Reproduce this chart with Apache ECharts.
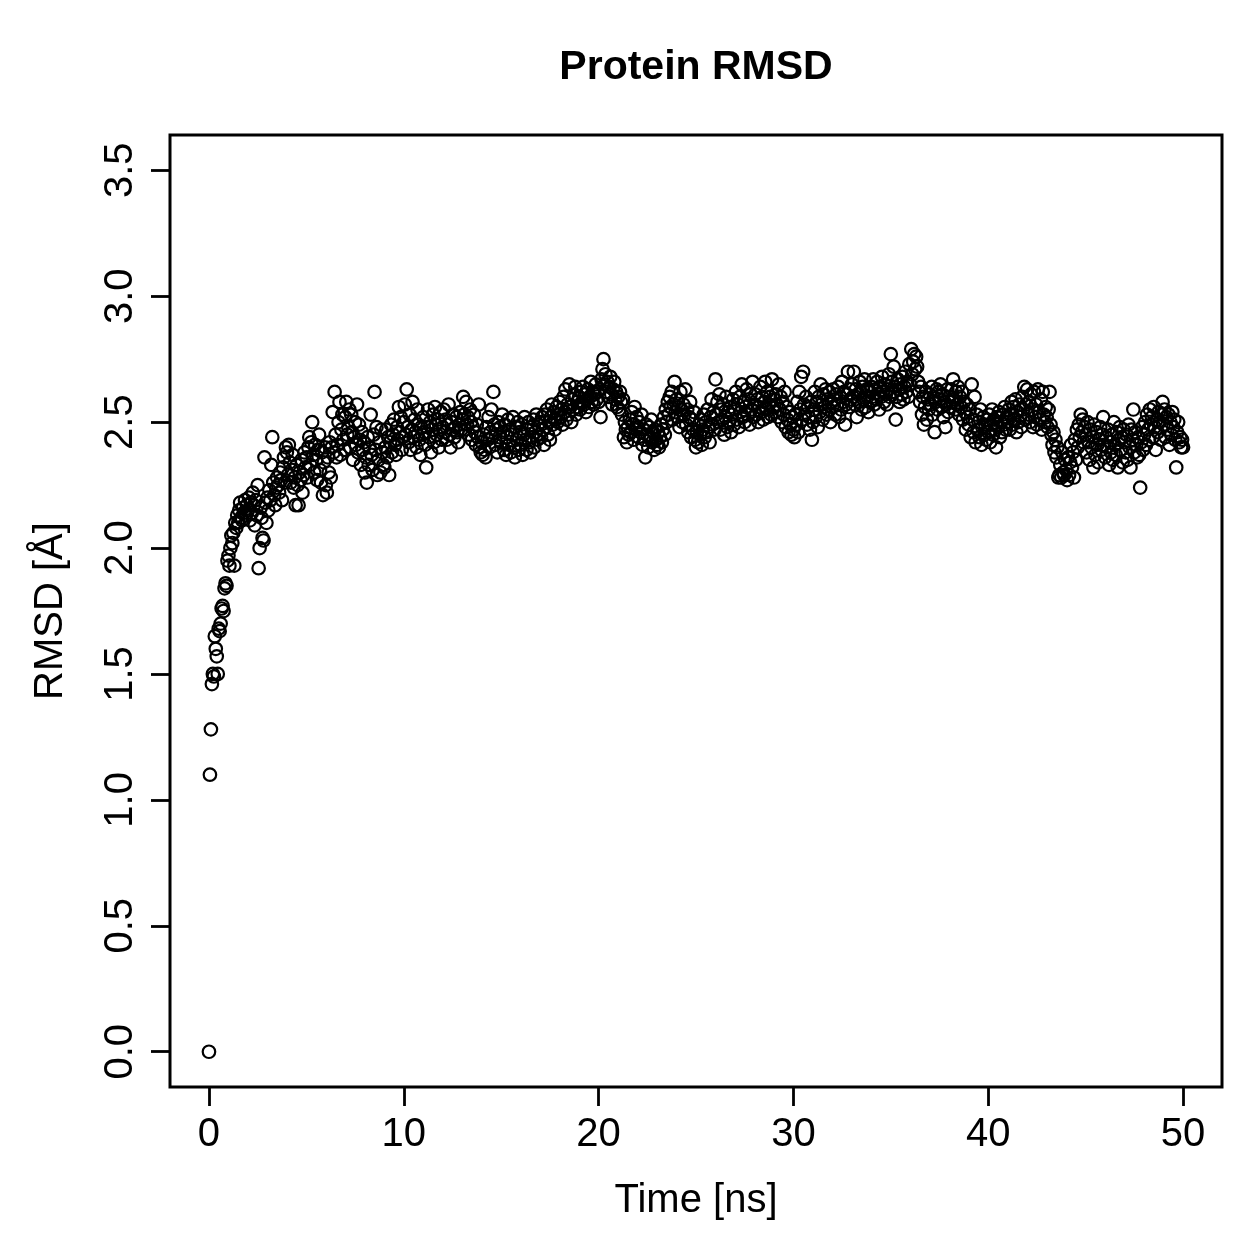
<!DOCTYPE html>
<html>
<head>
<meta charset="utf-8">
<script src="https://cdn.jsdelivr.net/npm/echarts@6/dist/echarts.min.js"></script>
<style>html,body{margin:0;padding:0;background:#fff;}#chart{width:1259px;height:1259px;}</style>
</head>
<body>
<div id="chart"></div>
<script>
// ---- data ----
const chartTitle = 'Protein RMSD';
const xAxisTitle = 'Time [ns]';
const yAxisTitle = 'RMSD [Å]';
const timeStepNs = 0.05;
const xTickValues = [0, 10, 20, 30, 40, 50];
const yTickValues = [0.0, 0.5, 1.0, 1.5, 2.0, 2.5, 3.0, 3.5];

const rmsd0to10 = [
0.00,1.10,1.28,1.46,1.50,1.49,1.65,1.60,1.57,1.50,1.68,1.67,1.70,1.76,1.77,1.75,1.84,1.86,1.85,1.95,
1.97,1.93,2.00,2.05,2.02,2.06,1.93,2.10,2.08,2.13,2.10,2.15,2.18,2.12,2.11,2.16,2.14,2.19,2.13,2.17,
2.15,2.20,2.11,2.18,2.14,2.22,2.17,2.09,2.19,2.13,2.25,1.92,2.00,2.16,2.12,2.04,2.03,2.36,2.18,2.10,
2.20,2.15,2.23,2.19,2.33,2.44,2.26,2.21,2.17,2.24,2.28,2.25,2.22,2.30,2.27,2.19,2.32,2.36,2.26,2.40,
2.38,2.29,2.41,2.34,2.26,2.31,2.37,2.24,2.28,2.17,2.33,2.25,2.17,2.30,2.27,2.35,2.22,2.29,2.38,2.32,
2.36,2.28,2.40,2.44,2.33,2.42,2.50,2.37,2.30,2.41,2.35,2.27,2.39,2.45,2.31,2.26,2.38,2.21,2.34,2.40,
2.25,2.22,2.36,2.30,2.42,2.28,2.40,2.54,2.38,2.62,2.45,2.36,2.41,2.50,2.58,2.37,2.47,2.53,2.43,2.39,
2.52,2.58,2.45,2.48,2.55,2.40,2.53,2.46,2.35,2.44,2.50,2.41,2.57,2.38,2.49,2.43,2.33,2.46,2.39,2.42,
2.30,2.36,2.26,2.44,2.33,2.40,2.53,2.37,2.31,2.45,2.62,2.39,2.48,2.29,2.35,2.42,2.30,2.47,2.38,2.33,
2.32,2.40,2.47,2.36,2.44,2.29,2.42,2.49,2.38,2.45,2.51,2.41,2.37,2.48,2.43,2.56,2.46,2.52,2.39,2.44
];
const rmsd10to20 = [
2.50,2.57,2.45,2.63,2.48,2.42,2.53,2.39,2.47,2.58,2.44,2.51,2.46,2.40,2.55,2.49,2.43,2.37,2.48,2.45,
2.52,2.46,2.41,2.32,2.48,2.55,2.44,2.50,2.38,2.47,2.53,2.42,2.56,2.49,2.45,2.51,2.40,2.47,2.54,2.43,
2.48,2.55,2.46,2.51,2.43,2.49,2.57,2.45,2.40,2.50,2.47,2.53,2.44,2.48,2.52,2.46,2.42,2.49,2.54,2.47,
2.51,2.60,2.53,2.47,2.58,2.49,2.52,2.45,2.55,2.50,2.43,2.48,2.53,2.46,2.41,2.49,2.44,2.57,2.40,2.38,
2.42,2.37,2.45,2.39,2.36,2.48,2.43,2.52,2.40,2.46,2.55,2.44,2.62,2.49,2.41,2.47,2.38,2.50,2.44,2.48,
2.42,2.53,2.46,2.39,2.49,2.37,2.44,2.51,2.41,2.47,2.38,2.45,2.52,2.40,2.36,2.48,2.43,2.50,2.39,2.46,
2.41,2.49,2.37,2.45,2.52,2.43,2.39,2.47,2.50,2.42,2.38,2.48,2.44,2.51,2.40,2.46,2.53,2.43,2.49,2.45,
2.50,2.44,2.52,2.47,2.41,2.53,2.48,2.55,2.45,2.50,2.43,2.52,2.57,2.49,2.54,2.47,2.51,2.56,2.50,2.53,
2.58,2.52,2.55,2.49,2.60,2.54,2.63,2.51,2.57,2.53,2.65,2.56,2.50,2.59,2.55,2.61,2.64,2.53,2.58,2.56,
2.60,2.55,2.62,2.58,2.64,2.57,2.61,2.54,2.59,2.63,2.56,2.60,2.66,2.58,2.62,2.57,2.61,2.65,2.59,2.62
];
const rmsd20to30 = [
2.58,2.63,2.52,2.67,2.71,2.75,2.65,2.69,2.62,2.66,2.60,2.64,2.68,2.61,2.57,2.63,2.66,2.59,2.62,2.56,
2.60,2.55,2.62,2.58,2.53,2.59,2.44,2.50,2.47,2.42,2.48,2.45,2.51,2.46,2.54,2.49,2.43,2.56,2.47,2.52,
2.48,2.44,2.50,2.46,2.53,2.41,2.47,2.43,2.36,2.49,2.45,2.40,2.48,2.44,2.51,2.42,2.46,2.39,2.47,2.43,
2.41,2.46,2.40,2.44,2.49,2.42,2.47,2.52,2.45,2.55,2.50,2.58,2.53,2.60,2.56,2.62,2.51,2.57,2.66,2.54,
2.59,2.52,2.56,2.48,2.62,2.55,2.50,2.57,2.53,2.63,2.49,2.55,2.46,2.52,2.58,2.44,2.51,2.47,2.54,2.43,
2.40,2.46,2.42,2.49,2.45,2.51,2.41,2.47,2.53,2.44,2.50,2.46,2.55,2.48,2.42,2.52,2.59,2.49,2.54,2.47,
2.67,2.53,2.58,2.50,2.61,2.47,2.55,2.51,2.57,2.45,2.52,2.60,2.48,2.54,2.50,2.56,2.46,2.53,2.59,2.49,
2.55,2.62,2.51,2.57,2.48,2.60,2.54,2.65,2.52,2.58,2.50,2.56,2.63,2.53,2.59,2.49,2.61,2.55,2.66,2.52,
2.57,2.61,2.53,2.59,2.50,2.56,2.64,2.54,2.60,2.51,2.58,2.66,2.55,2.62,2.52,2.57,2.60,2.53,2.67,2.56,
2.59,2.54,2.61,2.57,2.52,2.65,2.55,2.60,2.50,2.58,2.53,2.62,2.48,2.56,2.51,2.46,2.54,2.49,2.45,2.52
];
const rmsd30to40 = [
2.47,2.44,2.53,2.49,2.58,2.46,2.62,2.55,2.68,2.51,2.70,2.57,2.53,2.60,2.49,2.56,2.52,2.47,2.58,2.43,
2.50,2.55,2.62,2.52,2.58,2.48,2.60,2.54,2.65,2.57,2.51,2.61,2.56,2.63,2.53,2.59,2.55,2.62,2.50,2.58,
2.56,2.63,2.59,2.53,2.61,2.57,2.64,2.52,2.60,2.55,2.66,2.58,2.62,2.49,2.57,2.61,2.70,2.56,2.63,2.59,
2.65,2.60,2.70,2.57,2.63,2.52,2.61,2.58,2.66,2.62,2.55,2.64,2.59,2.67,2.56,2.63,2.60,2.54,2.62,2.58,
2.64,2.60,2.67,2.57,2.63,2.59,2.66,2.61,2.55,2.64,2.60,2.68,2.62,2.58,2.65,2.61,2.57,2.63,2.69,2.60,
2.77,2.66,2.62,2.72,2.64,2.51,2.60,2.67,2.63,2.58,2.65,2.61,2.68,2.59,2.64,2.70,2.62,2.66,2.60,2.73,
2.65,2.79,2.69,2.74,2.77,2.71,2.76,2.72,2.66,2.62,2.58,2.64,2.53,2.60,2.49,2.56,2.62,2.51,2.59,2.55,
2.61,2.57,2.64,2.53,2.60,2.46,2.58,2.63,2.55,2.62,2.59,2.65,2.56,2.61,2.52,2.58,2.48,2.57,2.63,2.54,
2.60,2.56,2.63,2.58,2.67,2.59,2.55,2.62,2.57,2.64,2.53,2.60,2.56,2.62,2.51,2.58,2.54,2.47,2.57,2.52,
2.49,2.55,2.44,2.65,2.51,2.46,2.60,2.42,2.53,2.47,2.50,2.44,2.55,2.41,2.48,2.52,2.45,2.49,2.43,2.51
];
const rmsd40to50 = [
2.46,2.53,2.42,2.49,2.55,2.45,2.51,2.47,2.40,2.52,2.48,2.54,2.44,2.50,2.46,2.53,2.49,2.56,2.47,2.52,
2.50,2.55,2.47,2.53,2.58,2.49,2.56,2.51,2.59,2.46,2.54,2.50,2.57,2.52,2.48,2.60,2.55,2.64,2.51,2.57,
2.63,2.53,2.58,2.50,2.61,2.55,2.48,2.62,2.52,2.57,2.49,2.63,2.54,2.51,2.59,2.47,2.62,2.53,2.50,2.56,
2.52,2.48,2.55,2.62,2.49,2.45,2.41,2.46,2.38,2.43,2.36,2.40,2.28,2.29,2.33,2.28,2.38,2.30,2.29,2.35,
2.31,2.27,2.36,2.29,2.34,2.41,2.32,2.38,2.28,2.43,2.35,2.47,2.40,2.49,2.44,2.53,2.46,2.51,2.42,2.48,
2.45,2.38,2.50,2.42,2.35,2.47,2.40,2.44,2.32,2.49,2.37,2.46,2.41,2.34,2.43,2.48,2.39,2.45,2.52,2.41,
2.36,2.44,2.40,2.47,2.33,2.42,2.38,2.45,2.35,2.50,2.41,2.37,2.46,2.32,2.43,2.48,2.39,2.44,2.34,2.47,
2.42,2.38,2.45,2.35,2.49,2.40,2.32,2.47,2.43,2.55,2.38,2.46,2.41,2.36,2.44,2.37,2.24,2.42,2.48,2.39,
2.45,2.50,2.41,2.53,2.47,2.43,2.55,2.49,2.52,2.44,2.56,2.48,2.39,2.51,2.46,2.54,2.50,2.43,2.53,2.58,
2.49,2.55,2.44,2.52,2.47,2.53,2.41,2.50,2.45,2.54,2.48,2.51,2.43,2.32,2.46,2.50,2.42,2.44,2.40,2.43,
2.40
];

const rmsdAll = rmsd0to10.concat(rmsd10to20, rmsd20to30, rmsd30to40, rmsd40to50);
const points = rmsdAll.map((v, i) => [+(i * timeStepNs).toFixed(2), v]);

const FONT = '"Liberation Sans", Arial, Helvetica, sans-serif';
const chart = echarts.init(document.getElementById('chart'), null, {renderer: 'canvas'});
chart.setOption({
  animation: false,
  backgroundColor: '#ffffff',
  title: {
    text: chartTitle,
    left: 696, top: 68, padding: 0,
    textAlign: 'center', textVerticalAlign: 'middle',
    textStyle: {fontFamily: FONT, fontSize: 41, fontWeight: 'bold', color: '#000'}
  },
  grid: {
    left: 170, top: 135, right: 37, bottom: 172,
    show: true, borderColor: '#000', borderWidth: 3, backgroundColor: 'transparent'
  },
  xAxis: {
    type: 'value', min: -2, max: 52,
    name: xAxisTitle, nameLocation: 'middle', nameGap: 114,
    nameTextStyle: {fontFamily: FONT, fontSize: 40, color: '#000', verticalAlign: 'middle', align: 'center'},
    axisLine: {show: false, onZero: false},
    splitLine: {show: false},
    axisTick: {show: true, inside: false, length: 19, customValues: xTickValues, lineStyle: {color: '#000', width: 2.8}},
    axisLabel: {show: true, customValues: xTickValues, margin: 47.5, verticalAlign: 'middle', align: 'center',
      fontFamily: FONT, fontSize: 40, color: '#000', formatter: v => String(Math.round(v))}
  },
  yAxis: {
    type: 'value', min: -0.14, max: 3.64,
    name: yAxisTitle, nameLocation: 'middle', nameGap: 119, nameRotate: 90,
    nameTextStyle: {fontFamily: FONT, fontSize: 40, color: '#000', verticalAlign: 'middle', align: 'center'},
    axisLine: {show: false, onZero: false},
    splitLine: {show: false},
    axisTick: {show: true, inside: false, length: 19, customValues: yTickValues, lineStyle: {color: '#000', width: 2.8}},
    axisLabel: {show: true, customValues: yTickValues, margin: 49, rotate: 90, verticalAlign: 'middle', align: 'center',
      fontFamily: FONT, fontSize: 40, color: '#000', formatter: v => v.toFixed(1)}
  },
  series: [{
    type: 'scatter',
    data: points,
    symbol: 'circle',
    symbolSize: 12.5,
    itemStyle: {color: 'rgba(0,0,0,0)', borderColor: '#000', borderWidth: 2.2, opacity: 1},
    emphasis: {disabled: true},
    silent: true
  }]
});
</script>
</body>
</html>
